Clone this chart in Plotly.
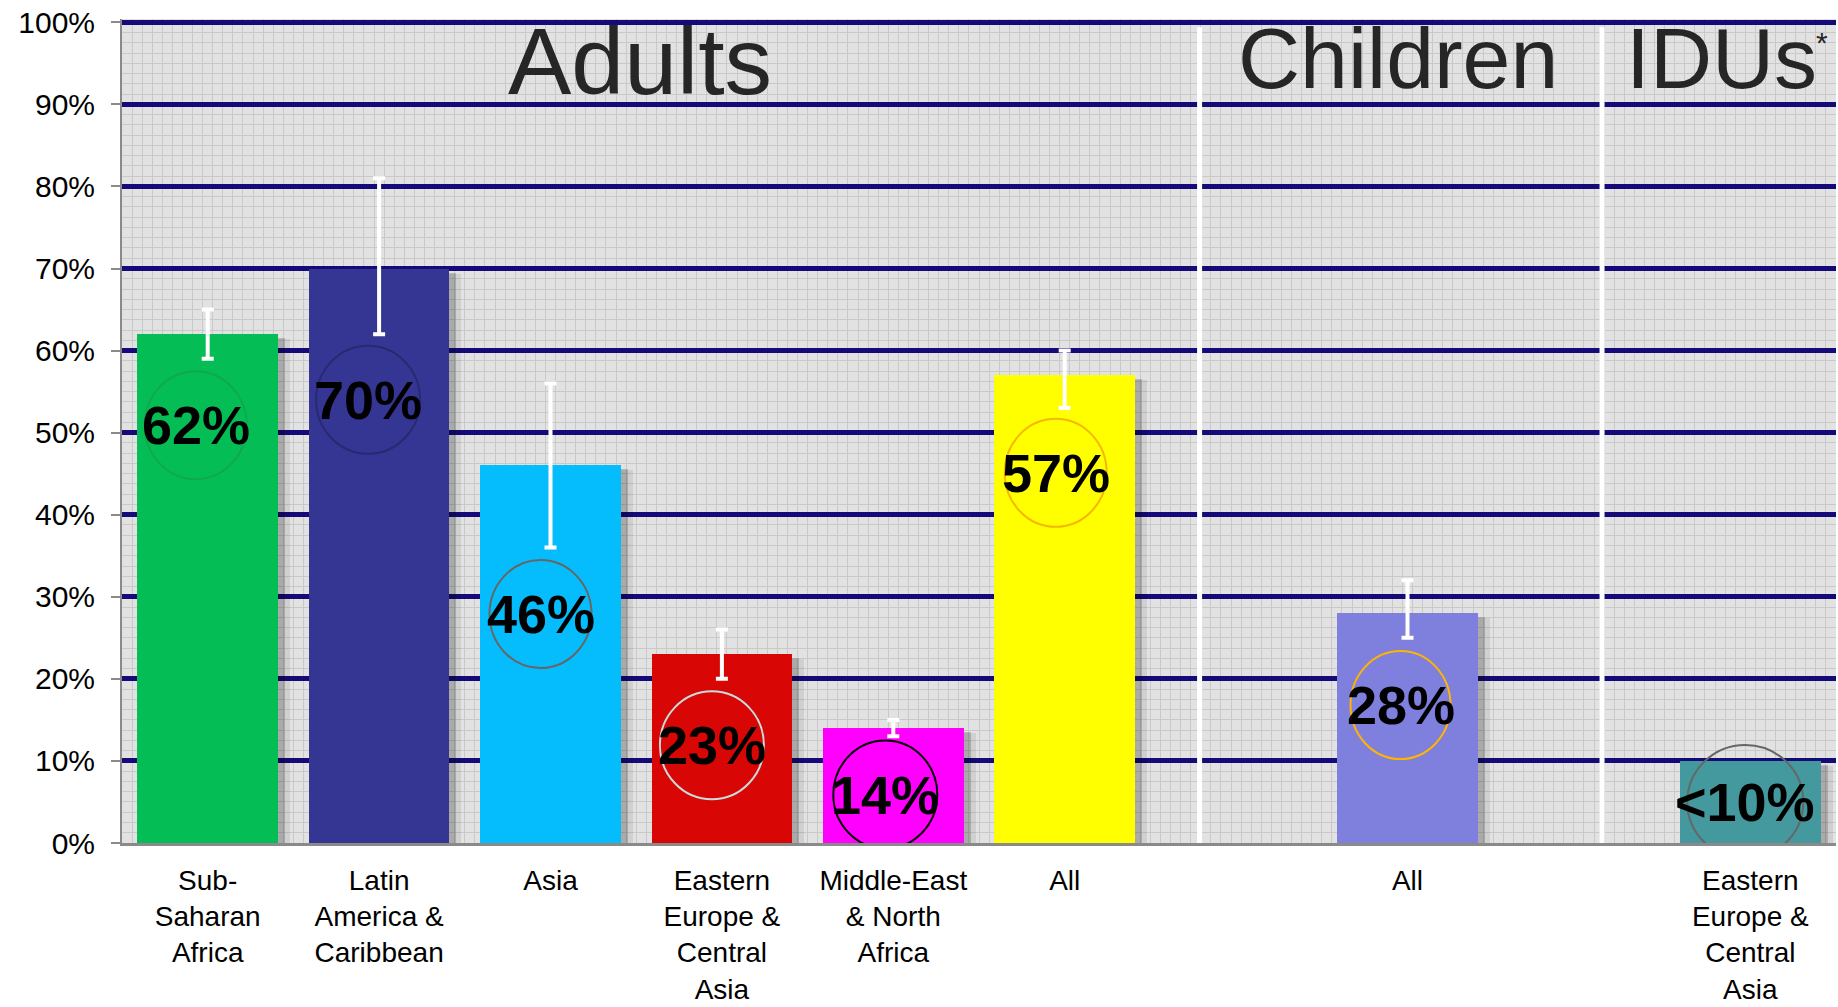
import plotly.graph_objects as go

# ---------------- data ----------------
categories = ["Sub-Saharan Africa", "Latin America & Caribbean", "Asia",
              "Eastern Europe & Central Asia", "Middle-East & North Africa", "All",
              "All", "Eastern Europe & Central Asia"]
tick_labels = ["Sub-<br>Saharan<br>Africa", "Latin<br>America &<br>Caribbean", "Asia",
               "Eastern<br>Europe &<br>Central<br>Asia", "Middle-East<br>& North<br>Africa", "All",
               "All", "Eastern<br>Europe &<br>Central<br>Asia"]
groups = ["Adults", "Adults", "Adults", "Adults", "Adults", "Adults", "Children", "IDUs"]
values = [62, 70, 46, 23, 14, 57, 28, 10]
upper = [65, 81, 56, 26, 15, 60, 32, None]
lower = [59, 62, 36, 20, 13, 53, 25, None]
value_labels = ["62%", "70%", "46%", "23%", "14%", "57%", "28%", "<10%"]
group_titles = ["Adults", "Children", "IDUs"]

# ---------------- layout / style ----------------
slots = [0, 1, 2, 3, 4, 5, 7, 9]
bar_colors = ["#05bd55", "#353594", "#05bdfd", "#d90606", "#ff00ff", "#ffff00", "#7f7fdd", "#43999d"]
circle_colors = ["#10a850", "#272a72", "#666666", "#c8dcdc", "#000000", "#f5b800", "#ffb400", "#666666"]
label_y = [50.9, 54.0, 27.9, 11.9, 5.9, 45.1, 16.8, 5.0]
label_dx = [-12, -11, -10, -10, -8, -9, -7, -5]
circle_r = [(51, 54), (52, 54), (51, 54), (52, 54), (52, 54), (51, 54), (50, 54), (58, 57)]
title_x = [2.522, 6.945, 8.83]
title_y = [95.3, 95.7, 95.7]
title_size = [95, 86, 86]
separators = [5.787, 8.135]

BW = 0.82
PX_X = 171.4   # px per slot
PX_Y = 8.207   # px per percent

fig = go.Figure()

# drop shadows
for dx, dy, col in [(12, 5, "rgba(0,0,0,0.08)"), (7, 4, "rgba(0,0,0,0.18)")]:
    fig.add_trace(go.Bar(
        x=slots, y=values, base=-dy / PX_Y, width=BW, offset=-BW / 2 + dx / PX_X,
        marker=dict(color=col, line=dict(width=0)), hoverinfo="skip", showlegend=False))

fig.add_trace(go.Bar(
    x=slots, y=values, width=BW, offset=-BW / 2,
    marker=dict(color=bar_colors, line=dict(width=0)),
    customdata=categories, hovertemplate="%{customdata}: %{y}%<extra></extra>",
    showlegend=False))

# error bars only where a range is known
ex, ey, ep, em = [], [], [], []
for sl, v, u, l in zip(slots, values, upper, lower):
    if u is not None and l is not None:
        ex.append(sl); ey.append(v); ep.append(u - v); em.append(v - l)
fig.add_trace(go.Scatter(
    x=ex, y=ey, mode="markers", marker=dict(size=1, opacity=0), hoverinfo="skip",
    error_y=dict(type="data", array=ep, arrayminus=em, symmetric=False,
                 color="#ffffff", thickness=4, width=6),
    showlegend=False))

shapes = []
for s in separators:
    shapes.append(dict(type="line", xref="x", yref="y", x0=s, x1=s, y0=0, y1=99.4,
                       line=dict(color="#ffffff", width=5), layer="between"))
for i, sl in enumerate(slots):
    rx, ry = circle_r[i]
    shapes.append(dict(type="circle", xref="x", yref="y", xsizemode="pixel", ysizemode="pixel",
                       xanchor=sl, yanchor=label_y[i],
                       x0=label_dx[i] - rx, x1=label_dx[i] + rx, y0=-ry, y1=ry,
                       line=dict(color=circle_colors[i], width=2), layer="above"))

annotations = []
for i, sl in enumerate(slots):
    annotations.append(dict(x=sl, y=label_y[i], xref="x", yref="y", text=value_labels[i],
                            showarrow=False, xshift=label_dx[i], xanchor="center", yanchor="middle",
                            font=dict(family="Liberation Sans, Arial", size=54, color="#000000",
                                      weight=700)))
for t, tx, ty, ts in zip(group_titles, title_x, title_y, title_size):
    annotations.append(dict(x=tx, y=ty, xref="x", yref="y", text=t, showarrow=False,
                            xanchor="center", yanchor="middle",
                            font=dict(family="Liberation Sans, Arial", size=ts, color="#262626")))
annotations.append(dict(x=9.42, y=97.5, xref="x", yref="y", text="*", showarrow=False,
                        xanchor="center", yanchor="middle",
                        font=dict(family="Liberation Sans, Arial", size=30, color="#262626")))

fig.update_layout(
    width=1838, height=1007,
    margin=dict(l=122, r=2, t=19, b=164, autoexpand=False),
    paper_bgcolor="#ffffff", plot_bgcolor="#e2e2e2",
    barmode="overlay", bargap=0,
    font=dict(family="Liberation Sans, Arial", color="#000000"),
    shapes=shapes, annotations=annotations,
    xaxis=dict(range=[-0.5, 9.5], tickmode="array", tickvals=slots, ticktext=tick_labels,
               tickfont=dict(size=28, color="#000000"), ticks="", showgrid=False, zeroline=False,
               showline=True, linecolor="#8a8a8a", linewidth=3, ticklabelstandoff=10,
               automargin=False,
               minor=dict(tick0=-0.5, dtick=1 / 17, showgrid=True, gridcolor="#c9c9c9", gridwidth=1)),
    yaxis=dict(range=[0, 100.4], tick0=0, dtick=10, ticksuffix="%",
               tickfont=dict(size=30, color="#000000"), ticks="outside", ticklen=9,
               tickwidth=2, tickcolor="#8a8a8a", showgrid=True, gridcolor="#140a78", gridwidth=5,
               zeroline=False, showline=True, linecolor="#8a8a8a", linewidth=2,
               ticklabelstandoff=10, automargin=False,
               minor=dict(tick0=0, dtick=1.25, showgrid=True, gridcolor="#c9c9c9", gridwidth=1)),
)

fig.write_html("out.html")
